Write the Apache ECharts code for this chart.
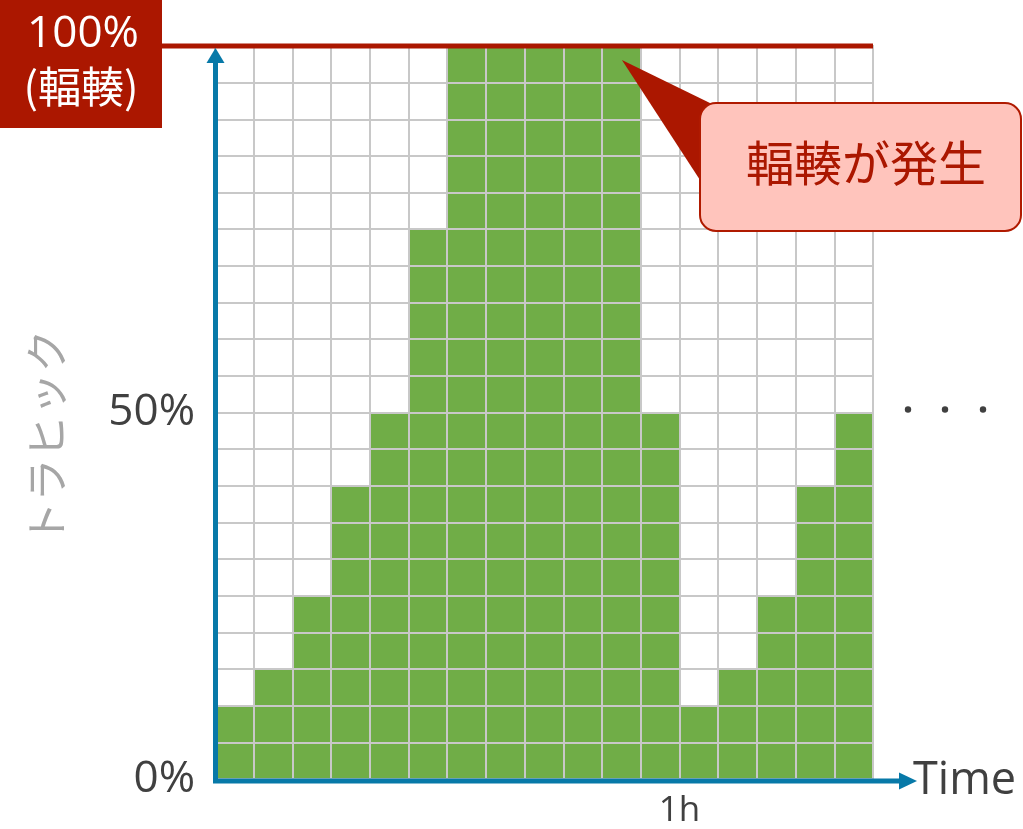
<!DOCTYPE html>
<html>
<head>
<meta charset="utf-8">
<script src="https://cdn.jsdelivr.net/npm/echarts@6/dist/echarts.min.js"></script>
<style>
  html, body { margin: 0; padding: 0; background: #ffffff; }
  #chart { width: 1023px; height: 829px; }
</style>
</head>
<body>
<div id="chart"></div>
<script>
// Traffic per 5-minute slot, as a percentage of link capacity
const slots = ['0', '5', '10', '15', '20', '25', '30', '35', '40', '45', '50', '55', '60', '65', '70', '75', '80'];
const traffic = [10, 15, 25, 40, 50, 75, 100, 100, 100, 100, 100, 50, 10, 15, 25, 40, 50];
const yTickLabels = { 0: '0%', 50: '50%' };
const timeTickLabels = { 60: '1h' };
const minutesSpan = 85;

const FONT = '"Open Sans", "Noto Sans", "Noto Sans CJK JP", sans-serif';
const JP = '"Noto Sans CJK JP", "Noto Sans", sans-serif';
const BLUE = '#0779a8';
const RED = '#ab1700';
const GRID = '#c8c8c8';
const TEXT = '#404040';

const chart = echarts.init(document.getElementById('chart'), null, { renderer: 'canvas' });

chart.setOption({
  animation: false,
  backgroundColor: '#ffffff',
  grid: { left: 215, top: 46, right: 150, bottom: 50, show: true, borderColor: GRID, borderWidth: 2 },
  xAxis: [
    {
      type: 'category',
      data: slots,
      boundaryGap: true,
      z: 5,
      axisLine: { show: false },
      axisTick: { show: false },
      axisLabel: { show: false },
      splitLine: { show: true, lineStyle: { color: GRID, width: 2 } }
    },
    {
      type: 'value',
      min: 0,
      max: minutesSpan,
      interval: 5,
      position: 'bottom',
      axisLine: { show: false },
      axisTick: { show: false },
      splitLine: { show: false },
      axisLabel: {
        margin: 15,
        fontSize: 35,
        fontFamily: FONT,
        color: TEXT,
        formatter: v => timeTickLabels[v] || ''
      }
    }
  ],
  yAxis: {
    type: 'value',
    min: 0,
    max: 100,
    interval: 5,
    z: 5,
    axisLine: { show: false },
    axisTick: { show: false },
    splitLine: { show: true, lineStyle: { color: GRID, width: 2 } },
    axisLabel: {
      margin: 20,
      fontSize: 44,
      fontFamily: FONT,
      color: TEXT,
      formatter: v => yTickLabels[v] || ''
    }
  },
  series: [{
    type: 'bar',
    xAxisIndex: 0,
    data: traffic,
    barCategoryGap: '0%',
    z: 1,
    itemStyle: { color: '#70ad47' }
  }]
});

// Decorations placed from the axes' own pixel mapping
const [x0, y0] = chart.convertToPixel({ xAxisIndex: 1, yAxisIndex: 0 }, [0, 0]);
const [x1, yTop] = chart.convertToPixel({ xAxisIndex: 1, yAxisIndex: 0 }, [minutesSpan, 100]);
const [, y50] = chart.convertToPixel({ xAxisIndex: 1, yAxisIndex: 0 }, [0, 50]);
const [xPeak] = chart.convertToPixel({ xAxisIndex: 1, yAxisIndex: 0 }, [52.5, 100]);

const axisX = x0 + 0.5;
const axisY = y0 + 2;
const arrowEnd = x1 + 44;

chart.setOption({
  graphic: [
    // capacity label box
    { type: 'rect', z: 100, shape: { x: 0, y: 0, width: x0 - 53, height: 128 }, style: { fill: RED } },
    { type: 'text', z: 101, style: { text: '100%', x: (x0 - 53) / 2 + 2, y: 34, align: 'center', verticalAlign: 'middle', fill: '#ffffff', font: '44px ' + FONT } },
    { type: 'text', z: 101, style: { text: '(輻輳)', x: (x0 - 53) / 2, y: 87, align: 'center', verticalAlign: 'middle', fill: '#ffffff', font: '43px ' + JP } },
    // capacity line
    { type: 'line', z: 100, shape: { x1: x0 - 53, y1: yTop, x2: x1, y2: yTop }, style: { stroke: RED, lineWidth: 5 } },
    // vertical axis with arrow
    { type: 'line', z: 100, shape: { x1: axisX, y1: axisY + 2, x2: axisX, y2: yTop + 14 }, style: { stroke: BLUE, lineWidth: 5 } },
    { type: 'polygon', z: 100, shape: { points: [[axisX, yTop + 2], [axisX - 9, yTop + 17], [axisX + 9, yTop + 17]] }, style: { fill: BLUE } },
    // horizontal axis with arrow
    { type: 'line', z: 100, shape: { x1: axisX - 2.5, y1: axisY, x2: arrowEnd - 16, y2: axisY }, style: { stroke: BLUE, lineWidth: 5 } },
    { type: 'polygon', z: 100, shape: { points: [[arrowEnd, axisY], [arrowEnd - 18, axisY - 8.5], [arrowEnd - 18, axisY + 8.5]] }, style: { fill: BLUE } },
    { type: 'text', z: 100, style: { text: 'Time', x: arrowEnd - 4, y: axisY, align: 'left', verticalAlign: 'middle', fill: TEXT, font: '45px ' + FONT } },
    // axis title
    { type: 'text', z: 100, x: 47, y: 437, rotation: Math.PI / 2, style: { text: 'トラヒック', x: 0, y: 0, align: 'center', verticalAlign: 'middle', fill: '#a6a6a6', font: '43px ' + JP } },
    // continuation dots
    { type: 'circle', z: 100, shape: { cx: x1 + 35, cy: y50 - 3, r: 3.2 }, style: { fill: TEXT } },
    { type: 'circle', z: 100, shape: { cx: x1 + 72, cy: y50 - 3, r: 3.2 }, style: { fill: TEXT } },
    { type: 'circle', z: 100, shape: { cx: x1 + 110, cy: y50 - 3, r: 3.2 }, style: { fill: TEXT } },
    // callout
    { type: 'polygon', z: 100, shape: { points: [[xPeak + 0.5, yTop + 14], [712, 104], [700, 180]] }, style: { fill: RED } },
    { type: 'rect', z: 101, shape: { x: 700, y: 103, width: 321, height: 128, r: 16 }, style: { fill: '#ffc4bc', stroke: '#b01a00', lineWidth: 2 } },
    { type: 'text', z: 102, style: { text: '輻輳が発生', x: 866, y: 163, align: 'center', verticalAlign: 'middle', fill: RED, font: '48px ' + JP } }
  ]
});
</script>
</body>
</html>
